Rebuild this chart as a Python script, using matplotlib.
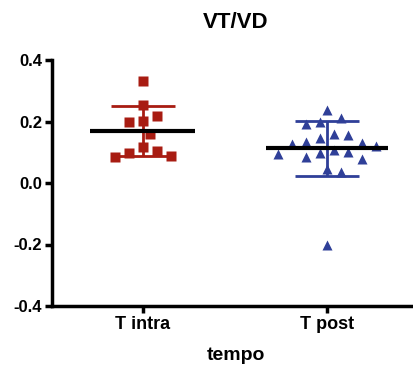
import numpy as np
import matplotlib
matplotlib.use("Agg")
import matplotlib.pyplot as plt

plt.rcParams['font.family'] = ['Liberation Sans', 'DejaVu Sans']
plt.rcParams['font.weight'] = 'bold'

title = "VT/VD"
categories = ["T intra", "T post"]
xlabel = "tempo"

t_intra = [0.332, 0.255, 0.218, 0.199, 0.202, 0.160, 0.118, 0.098, 0.105, 0.083, 0.089]
t_post = [0.237, 0.213, 0.192, 0.197, 0.156, 0.145, 0.159, 0.132, 0.127, 0.107,
          0.096, 0.085, 0.093, 0.077, 0.102, 0.120, 0.129, 0.045, 0.037, -0.201]

yticks = [-0.4, -0.2, 0.0, 0.2, 0.4]

red = "#a81c12"
blue = "#2f3f98"


def swarm(ax, xc, values, step_px):
    # simple beeswarm: place each point as close to center as possible without overlap
    pts = []
    offs = np.zeros(len(values))
    order = np.argsort(values)[::-1]
    for i in order:
        _, yp = ax.transData.transform((xc, values[i]))
        cands = [0.0]
        for k in range(1, 12):
            cands += [k * step_px / 2, -k * step_px / 2]
        cands.sort(key=lambda c: (abs(c), -c))
        for c in cands:
            if all((c - px) ** 2 + (yp - py) ** 2 >= step_px ** 2 for px, py in pts):
                pts.append((c, yp))
                offs[i] = c
                break
    x0, _ = ax.transData.transform((0, 0))
    x1, _ = ax.transData.transform((1, 0))
    return xc + offs / (x1 - x0)


fig = plt.figure(figsize=(4.14, 3.67), dpi=100)
ax = fig.add_axes([51.7 / 414, 1 - 306 / 367, 1 - 51.7 / 414, (306 - 60) / 367])
ax.set_xlim(-0.494, 1.47)
ax.set_ylim(-0.4, 0.4)

groups = [(t_intra, 's', red, 7.5, 0.285), (t_post, '^', blue, 7.5, 0.33)]
for gi, (vals, mk, col, ms, half) in enumerate(groups):
    vals = np.array(vals)
    xs = swarm(ax, gi, vals, 14)
    ax.plot(xs, vals, mk, color=col, ms=ms, mec='none', zorder=3, clip_on=False)
    m = vals.mean()
    sd = vals.std(ddof=1)
    ax.errorbar([gi], [m], yerr=[sd], color=col, lw=2, capsize=23, capthick=2, zorder=2)
    ax.hlines(m, gi - half, gi + half, color='black', lw=3, zorder=4)

ax.set_yticks(yticks)
ax.set_yticklabels([f"{v:.1f}" for v in yticks], fontsize=12, fontweight='bold')
ax.set_xticks([0, 1])
ax.set_xticklabels(categories, fontsize=13, fontweight='bold')
for s in ['top', 'right']:
    ax.spines[s].set_visible(False)
for s in ['left', 'bottom']:
    ax.spines[s].set_linewidth(2.5)
ax.tick_params(width=2.5, length=5, pad=2)

fig.text(236 / 414, 1 - 23 / 367, title, ha='center', va='center', fontsize=16, fontweight='bold')
fig.text(236 / 414, 1 - 356 / 367, xlabel, ha='center', va='center', fontsize=14, fontweight='bold')

fig.savefig("out.png", dpi=100)
